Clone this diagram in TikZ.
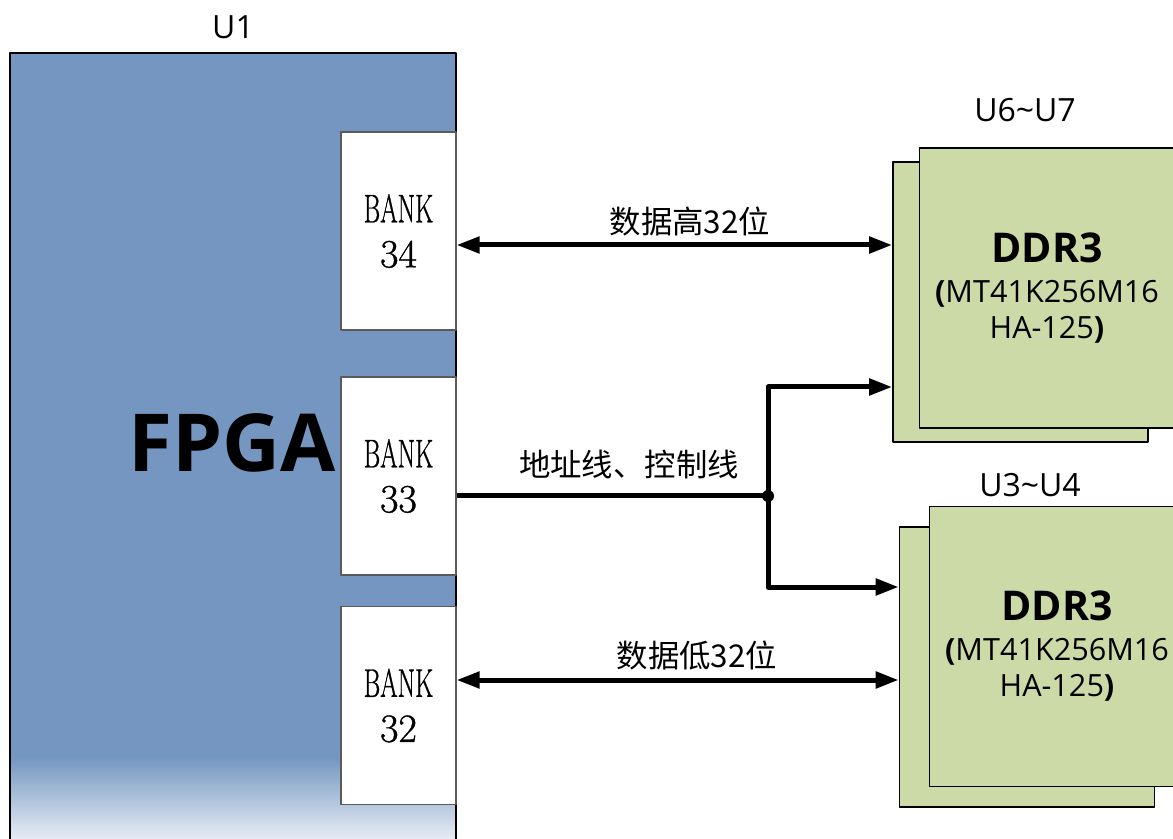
\documentclass[tikz,border=0pt]{standalone}
\usepackage{fontspec}
\newfontfamily\cjk{Noto Sans CJK SC}
\newfontfamily\opensans{Open Sans}
\newfontfamily\bankfont[FakeBold=0.9]{Latin Modern Roman}
\usetikzlibrary{arrows.meta,positioning}
\definecolor{fpgablue}{RGB}{116,150,192}
\definecolor{fpgapale}{RGB}{240,243,249}
\definecolor{ddrgreen}{RGB}{204,218,168}
\definecolor{bankline}{RGB}{90,90,90}
\begin{document}
\begin{tikzpicture}[x=0.5pt,y=-0.5pt,line join=round,
	bank/.style={draw=bankline,fill=white,line width=0.6pt,minimum width=57.5pt,minimum height=99pt,inner sep=0pt,align=center,font=\bankfont\fontsize{20}{22.5}\selectfont},
	ddrback/.style={draw,fill=ddrgreen,line width=0.8pt,minimum width=127.5pt,minimum height=140pt,inner sep=0pt},
	ddr/.style={ddrback,align=center,font=\opensans\fontsize{15.3}{18}\selectfont},
	tag/.style={font=\opensans\fontsize{16}{18}\selectfont},
	bus/.style={line width=2.5pt,-{Triangle[length=11.5pt,width=8pt]}},
	busboth/.style={line width=2.5pt,{Triangle[length=11.5pt,width=8pt]}-{Triangle[length=11.5pt,width=8pt]}},
	buslabel/.style={font=\cjk\fontsize{15.7}{18}\selectfont}]
	\useasboundingbox (0,0) rectangle (1173,839);
	\clip (0,0) rectangle (1173,839);
	% FPGA body
	\fill[fpgablue] (10,53) rectangle (456,758);
	\shade[top color=fpgablue,bottom color=fpgapale] (10,757) rectangle (456,845);
	\draw[line width=0.8pt] (10,850) -- (10,53) -- (456,53) -- (456,850);
	\node[tag] (u1) at (233,27) {U1};
	\node[font=\opensans\bfseries\fontsize{40}{44}\selectfont] (fpga) at (232,443) {FPGA};
	\node[bank] (b34) at (398.5,231) {\scalebox{0.63}[1]{BANK}\\34};
	\node[bank] (b33) at (398.5,476) {\scalebox{0.63}[1]{BANK}\\33};
	\node[bank] (b32) at (398.5,705.5) {\scalebox{0.63}[1]{BANK}\\32};
	% DDR3 chips
	\node[ddrback] (ddrAb) at (1020.5,302) {};
	\node[ddr] (ddrA) at (1047,288) {{\bfseries\fontsize{20.5}{22}\selectfont DDR3}\\[2pt]{\bfseries(}MT41K256M16\\HA-125{\bfseries)}};
	\node[tag] (uA) at (1025,110) {U6\textasciitilde U7};
	\node[ddrback] (ddrBb) at (1027,667) {};
	\node[ddr] (ddrB) at (1057,646.5) {{\bfseries\fontsize{20.5}{22}\selectfont DDR3}\\[2pt]{\bfseries(}MT41K256M16\\HA-125{\bfseries)}};
	\node[tag] (uB) at (1030,485) {U3\textasciitilde U4};
	% buses
	\draw[busboth] (b34.east |- 0,245) -- (ddrAb.west |- 0,245);
	\node[buslabel] (hi) at (690,222) {数据高32位};
	\coordinate (split) at (768,496);
	\draw[line width=2.5pt] (b33.east |- split) -- (split);
	\draw[bus] (split) |- (ddrAb.west |- 0,387);
	\draw[bus] (split) |- (ddrBb.west |- 0,587);
	\fill (split) circle (3pt);
	\node[buslabel] (ctl) at (629,465) {地址线、控制线};
	\draw[busboth] (b32.east |- 0,680) -- (ddrBb.west |- 0,680);
	\node[buslabel] (lo) at (697,656) {数据低32位};
\end{tikzpicture}
\end{document}
